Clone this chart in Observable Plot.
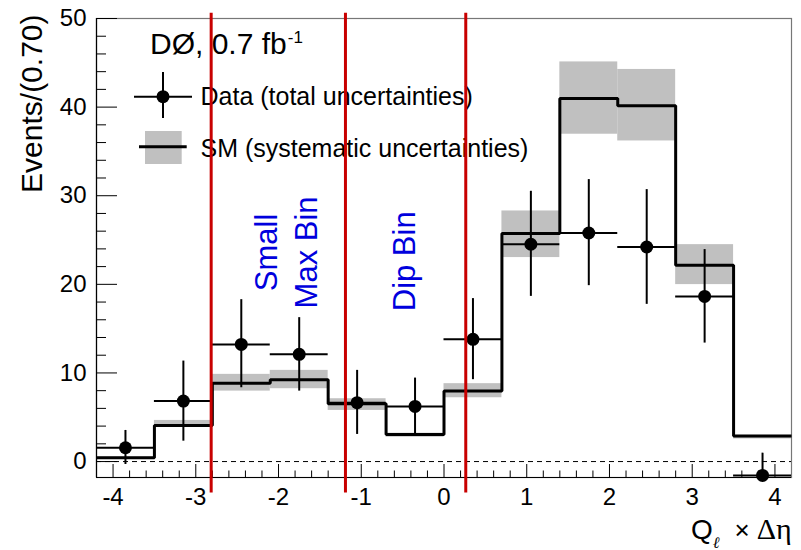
<!DOCTYPE html>
<html><head><meta charset="utf-8">
<script src="https://cdn.jsdelivr.net/npm/d3@7"></script>
<script src="https://cdn.jsdelivr.net/npm/@observablehq/plot@0.6"></script>
<style>
body{margin:0;background:#fff;}
#chart{width:801px;height:550px;}
</style></head><body><div id="chart"></div>
<script>
// ---- data ----
const binEdges = [-4.2,-3.5,-2.8,-2.1,-1.4,-0.7,0,0.7,1.4,2.1,2.8,3.5,4.2];
const smValues = [0.43,4.08,8.85,9.24,6.53,3.06,7.95,25.73,40.97,40.14,22.15,2.87];
const smBandLow = [0.35,3.96,7.95,8.22,5.77,2.75,7.2,23.02,36.94,36.18,19.97,2.55];
const smBandHigh = [0.5,4.64,9.84,10.29,7.09,3.2,8.79,28.28,45.1,44.25,24.48,2.95];
const dataValues = [1.56,6.82,13.22,12.1,6.64,6.22,13.79,24.52,25.79,24.21,18.64,-1.57];
const dataErrLow = [-0.33,2.3,8.33,7.95,3.06,3.06,9.24,18.64,19.85,17.74,13.37,-4.1];
const dataErrHigh = [3.51,11.34,18.27,16.24,10.29,9.42,18.39,30.5,31.82,30.69,23.92,0.95];
const xTicks = [-4,-3,-2,-1,0,1,2,3,4];
const yTicks = [0,10,20,30,40,50];
const regionBoundaries = [-2.814,-1.191,0.263];
const regionLabelText = ["Small","Max Bin","Dip Bin"];
const regionLabelX = [-2.016,-1.529,-0.345];
const regionLabelY = [23.6,23.6,22.6];

// ---- derived tables ----
const bins = smValues.map((v,i)=>({
  x1: binEdges[i], x2: binEdges[i+1], xc: (binEdges[i]+binEdges[i+1])/2,
  sm: v, lo: smBandLow[i], hi: smBandHigh[i],
  data: dataValues[i], eLo: dataErrLow[i], eHi: dataErrHigh[i]
}));
const steps = binEdges.map((e,i)=>({x:e, y: smValues[Math.min(i, smValues.length-1)]}));
const regionLabels = regionLabelText.map((t,i)=>({text:t, x:regionLabelX[i], y:regionLabelY[i]}));
const xMinor = d3.range(-20,21).map(k=>k/5).filter(v=>Math.abs(v - Math.round(v))>1e-6);
const yMinor = d3.range(2,50,2).filter(v=>v%10!==0);

const FONT = "Liberation Sans, Arial, Helvetica, sans-serif";
const RED = "#c80000";

const plot = Plot.plot({
  width: 801, height: 550,
  marginLeft: 96, marginRight: 10, marginTop: 18, marginBottom: 73,
  style: {fontFamily: FONT, fontSize: "24px", background: "white", color: "black", overflow: "visible"},
  x: {domain: [-4.2, 4.2]},
  y: {domain: [-1.8, 50]},
  marks: [
    Plot.frame({stroke: "#777", strokeWidth: 1.2}),
    Plot.rect(bins, {x1:"x1", x2:"x2", y1:"lo", y2:"hi", fill:"#c0c0c0"}),
    Plot.ruleY([0], {stroke:"black", strokeDasharray:"5,4", strokeWidth:1}),
    Plot.line(steps, {x:"x", y:"y", curve:"step-after", stroke:"black", strokeWidth:3, strokeLinejoin:"miter", strokeLinecap:"butt"}),
    Plot.ruleY(bins, {x1:"x1", x2:"x2", y:"data", stroke:"black", strokeWidth:2}),
    Plot.ruleX(bins, {x:"xc", y1:"eLo", y2:"eHi", stroke:"black", strokeWidth:2, clip:true}),
    Plot.dot(bins, {x:"xc", y:"data", r:6.5, fill:"black", stroke:null}),
    Plot.axisY({ticks: yTicks, anchor:"left", tickSize:-21, tickPadding:31, tickFormat:d=>String(d), label:null, fontSize:24}),
    Plot.axisY({ticks: yMinor, anchor:"left", tickSize:-10, tickFormat:()=>"", label:null}),
    Plot.axisX({ticks: xTicks, anchor:"bottom", tickSize:-13, tickPadding:23, tickFormat:d=>String(d), label:null, fontSize:24}),
    Plot.axisX({ticks: xMinor, anchor:"bottom", tickSize:-6.5, tickFormat:()=>"", label:null}),
    Plot.ruleX([-4.2], {stroke:"black", strokeWidth:1.2}),
    Plot.ruleY([-1.8], {stroke:"black", strokeWidth:1.2}),
    // axis titles
    Plot.text(["Events/(0.70)"], {text:d=>d, frameAnchor:"top-left", dx:-54.3, dy:-4, rotate:-90, textAnchor:"end", lineAnchor:"bottom", fontSize:30}),
    Plot.text(["Q"], {text:d=>d, frameAnchor:"bottom-left", dx:594.5, dy:61, textAnchor:"start", lineAnchor:"bottom", fontSize:28}),
    // legend texts
    Plot.text(["DØ, 0.7 fb"], {text:d=>d, frameAnchor:"top-left", dx:53.5, dy:35.3, textAnchor:"start", lineAnchor:"bottom", fontSize:30}),
    Plot.text(["Data (total uncertainties)"], {text:d=>d, frameAnchor:"top-left", dx:104, dy:86, textAnchor:"start", lineAnchor:"bottom", fontSize:25}),
    Plot.text(["SM (systematic uncertainties)"], {text:d=>d, frameAnchor:"top-left", dx:104, dy:138.7, textAnchor:"start", lineAnchor:"bottom", fontSize:25}),
    // region annotations
    Plot.text(regionLabels, {x:"x", y:"y", text:"text", rotate:-90, textAnchor:"middle", lineAnchor:"bottom", fill:"#0000dd", fontSize:31}),
    Plot.ruleX(regionBoundaries, {y1:-3.55, y2:50.6, stroke:RED, strokeWidth:3})
  ]
});

const svg = d3.select(plot);
// superscript
svg.selectAll("text").filter(function(){return this.textContent === "DØ, 0.7 fb";})
  .append("tspan").attr("dx", 1).attr("dy", -10.5).attr("font-size", 17).text("-1");
// x-axis title pieces
const q = svg.selectAll("text").filter(function(){return this.textContent === "Q";});
q.append("tspan").attr("dx", 0).attr("dy", 9).attr("font-size", 16).attr("font-style","italic")
  .attr("font-family","Liberation Serif, Times New Roman, serif").text("ℓ");
q.append("tspan").attr("dx", 15).attr("dy", -9).attr("font-size", 26).text("×");
q.append("tspan").attr("dx", 7).attr("font-size", 30)
  .attr("font-family","Liberation Serif, Times New Roman, serif").text("Δη");

// legend symbols
const lg = svg.append("g").attr("class","legend-symbols");
lg.append("rect").attr("x",145).attr("y",131).attr("width",36.7).attr("height",33).attr("fill","#c0c0c0");
lg.append("line").attr("x1",139).attr("x2",186.7).attr("y1",146.7).attr("y2",146.7).attr("stroke","black").attr("stroke-width",3);
lg.append("line").attr("x1",134).attr("x2",192).attr("y1",96.7).attr("y2",96.7).attr("stroke","black").attr("stroke-width",2);
lg.append("line").attr("x1",163).attr("x2",163).attr("y1",72).attr("y2",118).attr("stroke","black").attr("stroke-width",2);
lg.append("circle").attr("cx",163).attr("cy",96.7).attr("r",6.5).attr("fill","black");

document.getElementById("chart").appendChild(plot);
</script></body></html>
